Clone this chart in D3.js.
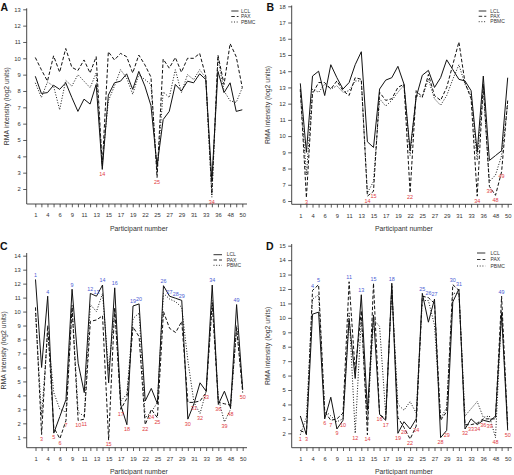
<!DOCTYPE html>
<html><head><meta charset="utf-8">
<script src="https://cdn.jsdelivr.net/npm/d3@7"></script>
<style>body{margin:0;background:#fff}svg{display:block}text{font-family:"Liberation Sans",Arial,sans-serif}</style>
</head><body>
<svg id="chart" width="514" height="475"></svg>
<script>
const participants = [1,3,4,5,6,7,9,10,11,12,13,14,15,16,17,18,19,20,22,24,25,26,27,28,29,30,31,32,33,34,36,39,48,49,50];
const seriesNames = ["LCL","PAX","PBMC"];

// Panel A
const lclA  = [8.9,7.85,7.9,8.35,8.1,8.5,7.6,6.75,7.5,7.2,8.4,3.2,7.75,8.5,8.6,9.05,8.1,9.2,8.3,7.1,3.4,6.25,6.75,8.4,8.0,8.6,8.5,9.05,8.7,2.5,9.2,7.9,8.5,6.75,6.85];
const paxA  = [10.05,9.3,8.6,10.15,9.15,10.6,9.45,9.25,9.9,9.1,10.1,3.4,10.4,9.9,10.3,10.1,9.1,10.2,9.6,8.85,2.7,9.95,9.4,10.05,9.15,10.0,10.0,10.3,8.9,1.7,10.2,8.4,10.9,10.1,8.2];
const pbmcA = [8.5,7.6,8.55,8.3,6.85,8.65,8.3,9.0,8.6,8.2,9.1,3.6,7.4,8.3,9.3,8.8,7.8,9.0,8.7,8.4,3.0,7.95,7.6,9.3,7.9,9.0,8.7,9.3,8.8,1.5,10.0,8.0,7.4,7.3,8.2];
const lowA = [14,25,34];
const highA = [];
const yTicksA = [2,3,4,5,6,7,8,9,10,11,12,13];

// Panel B
const lclB  = [13.25,9.0,13.7,14.0,12.5,14.4,13.6,12.9,13.3,14.4,15.2,9.65,9.3,12.9,13.45,13.6,14.3,13.2,9.1,12.4,13.75,14.05,13.0,13.6,14.7,14.1,13.5,13.4,12.8,9.0,13.7,8.5,8.8,9.1,13.6];
const paxB  = [12.9,6.2,12.6,13.3,13.3,12.9,13.4,12.8,12.5,13.6,13.5,6.3,6.6,12.7,12.2,12.3,13.0,13.2,6.5,12.8,12.4,13.8,12.5,12.2,13.0,14.4,15.8,13.3,12.3,6.3,13.2,6.9,6.35,7.8,12.2];
const pbmcB = [12.8,7.6,12.9,12.7,13.2,12.9,13.1,12.7,12.8,13.4,13.4,6.5,7.2,12.3,11.85,12.2,12.7,13.15,8.8,12.5,12.4,13.5,12.3,11.9,12.5,13.5,14.4,13.2,12.5,8.5,12.9,7.2,7.6,8.8,12.0];
const lowB = [3,14,15,22,34,39,48,49];
const highB = [];
const yTicksB = [6,7,8,9,10,11,12,13,14,15,16,17,18];

// Panel C
const lclC  = [12.3,6.0,11.1,1.3,2.5,3.7,11.6,6.3,4.2,11.3,11.1,11.9,4.9,11.7,3.3,1.9,10.4,10.55,3.6,4.5,3.4,11.85,11.1,10.95,10.8,2.3,3.4,4.9,4.3,11.9,3.35,4.3,3.1,10.5,4.4];
const paxC  = [10.3,1.2,9.0,1.7,0.9,2.2,10.3,2.2,2.3,9.3,9.4,9.7,0.8,10.3,3.0,3.8,8.9,8.2,1.9,3.0,2.4,10.0,8.8,8.5,9.3,3.5,3.5,3.6,4.2,10.6,3.5,3.4,3.3,8.8,4.2];
const pbmcC = [9.9,2.5,8.5,4.2,3.0,2.8,10.5,2.8,2.5,10.5,10.0,11.3,5.8,10.1,3.6,4.1,9.5,9.9,2.4,2.8,3.5,11.3,10.9,10.7,10.3,6.5,3.5,2.7,4.3,10.8,3.8,2.1,3.0,9.0,4.5];
const highC = [1,4,9,12,13,14,16,19,20,26,27,28,29,34,49];
const lowC = [3,5,6,7,10,11,15,17,18,22,24,25,30,31,32,33,36,39,48,50];
const yTicksC = [1,2,3,4,5,6,7,8,9,10,11,12,13,14];

// Panel D
const lclD  = [3.2,1.9,10.25,10.4,3.0,4.5,2.3,2.9,9.9,5.8,11.6,3.6,10.2,3.3,2.9,12.4,2.0,2.8,2.3,3.0,11.7,9.7,11.3,1.7,2.2,11.1,12.0,2.3,3.0,2.6,2.9,2.8,3.2,10.3,2.2];
const paxD  = [2.2,2.0,11.9,12.3,3.5,2.9,3.0,3.4,12.5,6.3,10.5,1.9,12.4,3.3,3.0,12.2,3.1,2.4,1.6,2.5,11.5,11.4,11.0,2.9,3.5,12.3,11.9,2.6,2.6,2.7,3.0,3.0,3.0,11.5,2.4];
const pbmcD = [1.9,3.1,11.3,11.6,3.6,3.2,2.8,3.0,10.4,2.0,10.0,2.8,9.9,9.4,3.3,11.9,4.0,3.6,4.2,3.4,11.2,11.2,9.5,3.0,3.8,11.7,11.7,3.2,3.7,4.2,3.1,3.2,1.7,10.5,2.6];
const highD = [4,5,11,13,15,18,25,26,27,30,31,49];
const lowD = [1,3,6,7,9,10,12,14,16,17,19,20,22,24,28,29,32,33,34,36,39,48,50];
const yTicksD = [2,3,4,5,6,7,8,9,10,11,12,13,14,15];

const svg = d3.select("#chart");
const dashes = ["none","3.5,2","1,1.7"];
const RED = "#e0393e", BLUE = "#4a5bd3";

const panels = [
  {letter:"A", lx:0.5, ly:10.5, series:[lclA,paxA,pbmcA], low:lowA, high:highA, yTicks:yTicksA,
   xr:[35.3,242.3], axisX:26.7, rightX:247, yd:[2,13], yr:[189,9.3], bottom:204, top:8.3,
   ytx:6.3, leg:{x1:231.3,x2:238.5,tx:241,y:[11,16.5,22]}},
  {letter:"B", lx:266.5, ly:10.5, series:[lclB,paxB,pbmcB], low:lowB, high:highB, yTicks:yTicksB,
   xr:[300.3,507.7], axisX:291.7, rightX:512, yd:[6,18], yr:[201,6.3], bottom:204.3, top:5.5,
   ytx:267.5, leg:{x1:478.7,x2:486.3,tx:490.3,y:[11,16.3,21.7]}},
  {letter:"C", lx:0, ly:250, series:[lclC,paxC,pbmcC], low:lowC, high:highC, yTicks:yTicksC,
   xr:[35.5,242.7], axisX:26.7, rightX:247, yd:[1,14], yr:[437.3,255.7], bottom:447.7, top:253,
   ytx:3.5, leg:{x1:213.5,x2:222,tx:226.7,y:[254.7,260,265.3]}},
  {letter:"D", lx:266, ly:249.5, series:[lclD,paxD,pbmcD], low:lowD, high:highD, yTicks:yTicksD,
   xr:[300.3,507.7], axisX:291.7, rightX:512, yd:[2,15], yr:[433.3,245.7], bottom:447.7, top:244,
   ytx:267.5, leg:{x1:477,x2:485.3,tx:490.5,y:[253,259.5,266]}}
];

panels.forEach(p => {
  const g = svg.append("g");
  const x = d3.scaleLinear().domain([0, participants.length-1]).range(p.xr);
  const y = d3.scaleLinear().domain(p.yd).range(p.yr);

  // L-shaped box
  g.append("path").attr("d", `M${p.axisX},${p.top}V${p.bottom}H${p.rightX}`)
    .attr("fill","none").attr("stroke","#333").attr("stroke-width",0.9);

  // y axis
  const ya = g.append("g").attr("transform",`translate(${p.axisX},0)`)
    .call(d3.axisLeft(y).tickValues(p.yTicks).tickSize(3.5).tickPadding(2.5).tickFormat(d3.format("d")));
  ya.select(".domain").remove();
  ya.selectAll("line").attr("stroke","#333").attr("stroke-width",0.8);
  ya.selectAll("text").attr("font-size","5.8px").attr("fill","#333").attr("font-family","Liberation Sans, Arial, sans-serif");

  // x axis
  const xa = g.append("g").attr("transform",`translate(0,${p.bottom})`)
    .call(d3.axisBottom(x).tickValues(d3.range(participants.length)).tickSize(3.3).tickPadding(5.8)
      .tickFormat(i => i % 2 === 0 ? participants[i] : ""));
  xa.select(".domain").remove();
  xa.selectAll("line").attr("stroke","#333").attr("stroke-width",0.8);
  xa.selectAll("text").attr("font-size","5.8px").attr("fill","#333").attr("font-family","Liberation Sans, Arial, sans-serif");

  // axis titles
  const cx = (p.axisX + p.rightX)/2;
  g.append("text").attr("x", cx + 2).attr("y", p.bottom + 26.5).attr("text-anchor","middle")
    .attr("font-size","6.9px").attr("fill","#333").text("Participant number");
  g.append("text").attr("transform",`translate(${p.ytx + 2.3},${(p.top+p.bottom)/2}) rotate(-90)`)
    .attr("text-anchor","middle").attr("font-size","6.9px").attr("fill","#333").text("RMA intensity (log2 units)");

  // panel letter
  g.append("text").attr("x",p.lx).attr("y",p.ly).attr("font-size","10.5px").attr("font-weight","bold")
    .attr("fill","#111").text(p.letter);

  // lines
  const line = d3.line().x((d,i)=>x(i)).y(d=>y(d));
  p.series.forEach((s,k) => {
    g.append("path").datum(s).attr("d", line).attr("fill","none").attr("stroke","#111")
      .attr("stroke-width", 1).attr("stroke-dasharray", dashes[k]).attr("stroke-linejoin","round");
  });

  // labels
  const idx = v => participants.indexOf(v);
  p.low.forEach(v => {
    const i = idx(v);
    const m = d3.min(p.series, s => s[i]);
    g.append("text").attr("x", x(i)).attr("y", y(m) + 4.5).attr("dy","0.35em")
      .attr("text-anchor","middle").attr("font-size","5.4px").attr("fill",RED).text(v);
  });
  p.high.forEach(v => {
    const i = idx(v);
    const m = d3.max(p.series, s => s[i]);
    g.append("text").attr("x", x(i)).attr("y", y(m) - 4.5).attr("dy","0.35em")
      .attr("text-anchor","middle").attr("font-size","5.4px").attr("fill",BLUE).text(v);
  });

  // legend
  seriesNames.forEach((n,k) => {
    g.append("line").attr("x1",p.leg.x1).attr("x2",p.leg.x2).attr("y1",p.leg.y[k]).attr("y2",p.leg.y[k])
      .attr("stroke","#333").attr("stroke-width",1).attr("stroke-dasharray",dashes[k]);
    g.append("text").attr("x",p.leg.tx).attr("y",p.leg.y[k]).attr("dy","0.35em")
      .attr("font-size","5px").attr("fill","#333").text(n);
  });
});
</script>
</body></html>
